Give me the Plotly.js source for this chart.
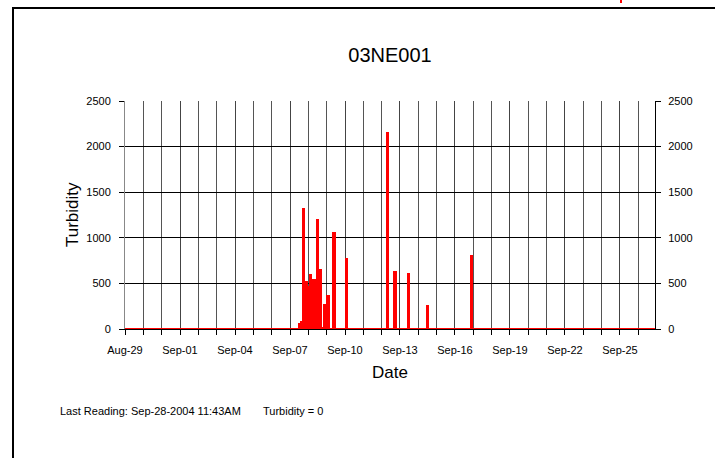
<!DOCTYPE html>
<html>
<head>
<meta charset="utf-8">
<script src="https://cdn.plot.ly/plotly-3.0.1.min.js"></script>
<style>html,body{margin:0;padding:0;background:#fff;}#chart{width:715px;height:458px;}</style>
</head>
<body>
<div id="chart"></div>
<script>
// ---- data ----
const stationName = '03NE001';
const readingTimes = [
  '2004-09-07 12:45','2004-09-07 15:00','2004-09-07 17:45','2004-09-07 21:00','2004-09-07 23:15',
  '2004-09-08 02:30','2004-09-08 05:00','2004-09-08 07:15','2004-09-08 12:15','2004-09-08 15:45',
  '2004-09-08 18:15','2004-09-08 21:30','2004-09-09 01:45','2004-09-09 09:30','2004-09-09 16:00',
  '2004-09-10 01:30','2004-09-11 11:00','2004-09-11 19:00','2004-09-12 00:30','2004-09-12 08:00',
  '2004-09-12 17:30','2004-09-13 01:00','2004-09-13 11:00','2004-09-13 15:30','2004-09-14 12:15',
  '2004-09-14 17:30','2004-09-16 16:30','2004-09-16 22:00','2004-09-24 00:30','2004-09-24 05:30'
];
const turbidityValues = [
  66, 83, 1326, 522, 467,
  603, 340, 551, 1205, 657,
  20, 274, 376, 1059, 10,
  778, 12, 15, 15, 2159,
  631, 15, 614, 15, 266,
  12, 12, 814, 10, 10
];
const baselineTimes = ['2004-08-29 00:00', '2004-09-28 11:43'];
const baselineValues = [0, 0];
const yTickValues = [0, 500, 1000, 1500, 2000, 2500];
const xRange = ['2004-08-29 00:00', '2004-09-26 21:50'];
const lastReadingTime = 'Sep-28-2004 11:43AM';
const lastReadingValue = 0;

// ---- layout helpers ----
const W = 715, H = 458, L = 125, R = 60, T = 101, B = 129;
const pw = W - L - R, ph = H - T - B;
const px = x => (x - L) / pw;
const py = y => (H - B - y) / ph;
const DAY = 86400000;
const FONT = 'Liberation Sans, Arial, sans-serif';

const traces = [
  {
    type: 'bar', x: readingTimes, y: turbidityValues,
    marker: {color: '#ff0000', line: {width: 0}},
    width: 4.3 * 3600000, xaxis: 'x', yaxis: 'y',
    hoverinfo: 'x+y', showlegend: false
  },
  {
    type: 'scatter', mode: 'lines', x: baselineTimes, y: baselineValues,
    line: {color: '#ff0000', width: 2}, xaxis: 'x', yaxis: 'y2',
    hoverinfo: 'skip', showlegend: false
  }
];

const yCommon = {
  range: [0, 2500], tickvals: yTickValues, ticktext: yTickValues.map(String),
  ticks: 'outside', ticklen: 5, tickcolor: '#000', tickwidth: 1,
  tickfont: {family: FONT, size: 11, color: '#000'},
  zeroline: false, fixedrange: true
};

const layout = {
  width: W, height: H,
  margin: {l: L, r: R, t: T, b: B, pad: 0},
  paper_bgcolor: '#fff', plot_bgcolor: '#fff',
  bargap: 0,
  title: {
    text: stationName, font: {family: FONT, size: 20, color: '#000'},
    x: 0.5, xref: 'paper', xanchor: 'center', y: 1 - 55 / H, yanchor: 'middle'
  },
  xaxis: {
    type: 'date', range: xRange,
    tick0: '2004-08-29', dtick: 3 * DAY, tickformat: '%b-%d',
    ticks: 'outside', ticklen: 5, tickcolor: '#000', tickwidth: 1,
    tickfont: {family: FONT, size: 11, color: '#000'},
    ticklabelstandoff: 6,
    showgrid: true, gridcolor: '#444', gridwidth: 1,
    minor: {dtick: DAY, tick0: '2004-08-29', showgrid: true, gridcolor: '#555', gridwidth: 1,
            ticks: 'outside', ticklen: 5, tickcolor: '#000'},
    showline: true, linecolor: '#000', linewidth: 1,
    zeroline: false, fixedrange: true
  },
  yaxis: Object.assign({}, yCommon, {
    side: 'left', showgrid: true, gridcolor: '#000', gridwidth: 1,
    showline: true, linecolor: '#888', linewidth: 1, ticklabelstandoff: 6
  }),
  yaxis2: Object.assign({}, yCommon, {
    side: 'right', overlaying: 'y', anchor: 'x', showgrid: false,
    showline: true, linecolor: '#000', linewidth: 1, ticklabelstandoff: 5
  }),
  annotations: [
    {text: 'Turbidity', xref: 'paper', yref: 'paper', x: px(72), y: py(215),
     textangle: -90, showarrow: false, xanchor: 'center', yanchor: 'middle',
     font: {family: FONT, size: 17, color: '#000'}},
    {text: 'Date', xref: 'paper', yref: 'paper', x: px(390), y: py(372),
     showarrow: false, xanchor: 'center', yanchor: 'middle',
     font: {family: FONT, size: 17, color: '#000'}},
    {text: 'Last Reading: ' + lastReadingTime, xref: 'paper', yref: 'paper', x: px(58), y: py(411),
     showarrow: false, xanchor: 'left', yanchor: 'middle',
     font: {family: FONT, size: 11, color: '#000'}},
    {text: 'Turbidity = ' + lastReadingValue, xref: 'paper', yref: 'paper', x: px(261), y: py(411),
     showarrow: false, xanchor: 'left', yanchor: 'middle',
     font: {family: FONT, size: 11, color: '#000'}}
  ],
  shapes: [
    {type: 'line', xref: 'paper', yref: 'paper', x0: px(13), x1: px(13), y0: py(7), y1: py(460),
     line: {color: '#000', width: 2}},
    {type: 'line', xref: 'paper', yref: 'paper', x0: px(12), x1: px(716), y0: py(8), y1: py(8),
     line: {color: '#000', width: 2}},
    {type: 'line', xref: 'paper', yref: 'paper', x0: px(621), x1: px(621), y0: py(0), y1: py(3),
     line: {color: '#ff0000', width: 2}}
  ]
};

Plotly.newPlot('chart', traces, layout, {displayModeBar: false, staticPlot: true});
</script>
</body>
</html>
